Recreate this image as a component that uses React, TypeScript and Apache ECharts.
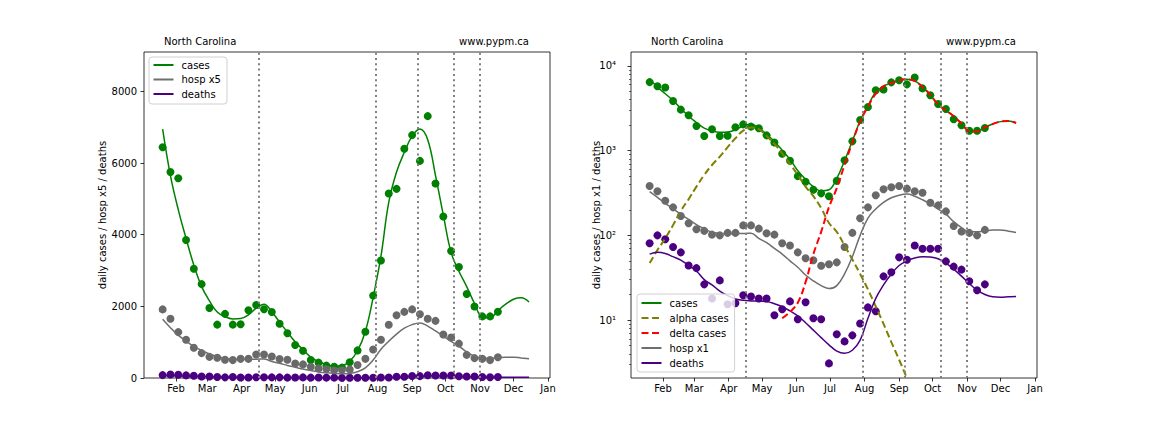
import React, { useEffect, useRef } from "react";
import * as echarts from "echarts";

// ---- data (weekly, first week = 2021-01-20) ----
const FIRST_WEEK = "2021-01-20";

const casesObs = [6440, 5750, 5575, 3850, 3050, 2620, 1955, 1490, 1790, 1490, 1500, 1890, 2040, 1920, 1840, 1515, 1250, 920, 760, 500, 430, 345, 313, 290, 440, 770, 1290, 2300, 3280, 5150, 5280, 6400, 6780, 6060, 7310, 5430, 4510, 3545, 3100, 2345, 1995, 1720, 1720, 1850];
const hospObs = [383, 331, 256, 214, 169, 139, 118, 113, 102, 100, 107, 107, 131, 131, 120, 106, 102, 80.5, 76, 63, 53.6, 50.7, 43.8, 45.5, 48, 72.8, 107, 159, 214, 297, 350, 369, 383, 356, 331, 319, 243, 226, 192, 129, 111, 107, 100, 116];
const deathsObs = [80.5, 100, 90, 73, 63, 44, 41, 26.4, 18, 29.4, 15.4, 15.8, 19.6, 19, 18, 18, 11.4, 13.4, 16.6, 10.2, 16.2, 10.5, 10.2, 3.08, 6.8, 5.6, 6.6, 9.1, 14.1, 12.7, 32.8, 36.6, 55, 51.5, 76, 69.5, 69.5, 69.5, 49.3, 42.7, 39.4, 28.7, 22.5, 26.4];

const casesFit = [6950, 5650, 4700, 3900, 3150, 2550, 2150, 1840, 1710, 1650, 1660, 1760, 1950, 2060, 1850, 1560, 1280, 1010, 790, 580, 460, 375, 335, 345, 470, 760, 1300, 2250, 3400, 4900, 5750, 6300, 6750, 6950, 6650, 5650, 4550, 3500, 2980, 2550, 2080, 1700, 1680, 1880, 2060, 2200, 2240, 2120];
const hospFit = [328, 281, 239, 206, 177, 154, 134, 120, 109, 106, 104, 105, 105, 106, 92, 82, 70, 60, 50, 42, 34, 29, 25.5, 23.5, 25.5, 35, 56, 100, 160, 205, 245, 278, 298, 307, 290, 263, 234, 204, 178, 145, 123, 110, 110, 113, 116, 116, 112, 108];
const deathsFit = [60, 63, 61, 56, 51, 44, 38, 30, 26, 22, 19.5, 17.7, 17.1, 16.8, 16.7, 16.5, 15.6, 14.4, 12.8, 11.2, 9.3, 7.6, 6.2, 5.1, 4.3, 4.05, 4.4, 5.8, 10.5, 18, 26, 35, 44, 50, 54, 56, 55.5, 53, 47, 40, 33, 27, 22.5, 20, 18.8, 18.6, 18.8, 19];
const alphaFit = [47, 67, 92, 132, 195, 267, 376, 517, 677, 850, 1097, 1400, 1722, 1880, 1790, 1490, 1200, 931, 697, 517, 376, 290, 210, 140, 110, 76, 52, 35, 23, 14.5, 9, 5.5, 3.4, 2.05, 1.2];
const DELTA_FIRST_WEEK = 17;
const deltaFit = [10.5, 12.5, 16, 28, 60, 110, 215, 360, 680, 1250, 2200, 3300, 4700, 5740, 6290, 6745, 6948, 6650, 5650, 4550, 3500, 2980, 2550, 2080, 1700, 1680, 1880, 2060, 2200, 2240, 2120];

const changeDates = ["2021-04-16", "2021-07-30", "2021-09-06", "2021-10-08", "2021-11-01"];
const monthTickDates = ["2021-02-01", "2021-03-01", "2021-04-01", "2021-05-01", "2021-06-01", "2021-07-01", "2021-08-01", "2021-09-01", "2021-10-01", "2021-11-01", "2021-12-01", "2022-01-01"];
const monthTickLabels = ["Feb", "Mar", "Apr", "May", "Jun", "Jul", "Aug", "Sep", "Oct", "Nov", "Dec", "Jan"];
const linearTicks = [0, 2000, 4000, 6000, 8000];
const logTicks = [10, 100, 1000, 10000];
const logTickLabels = ["10\u00b9", "10\u00b2", "10\u00b3", "10\u2074"];
const logMinorTicks = [3, 4, 5, 6, 7, 8, 9, 20, 30, 40, 50, 60, 70, 80, 90, 200, 300, 400, 500, 600, 700, 800, 900, 2000, 3000, 4000, 5000, 6000, 7000, 8000, 9000];

// ---- helpers ----
const DAY = 86400000;
const ts = (s: string) => {
  const [y, m, d] = s.split("-").map(Number);
  return Date.UTC(y, m - 1, d);
};
const T0 = ts(FIRST_WEEK);
const weekly = (vals: number[], offset = 0, scale = 1) =>
  vals.map((v, i) => [T0 + (i + offset) * 7 * DAY, v * scale]);

const X_MIN = Date.UTC(2021, 0, 3, 6);
const X_MAX = Date.UTC(2022, 0, 2, 19);
const monthTs = monthTickDates.map(ts);

const FONT = "DejaVu Sans";
const GREEN = "#008000";
const GREY_DOT = "#696969";
const GREY_LINE = "#6e6e6e";
const INDIGO = "#4b0082";
const OLIVE = "#808000";
const RED = "#ff0000";

function xAxis(gridIndex: number) {
  return {
    type: "value",
    gridIndex,
    min: X_MIN,
    max: X_MAX,
    axisLine: { show: false },
    splitLine: { show: false },
    axisTick: { show: true, length: 3.5, customValues: monthTs, lineStyle: { color: "#000", width: 0.8 } },
    axisLabel: {
      customValues: monthTs,
      formatter: (v: number) => {
        const i = monthTs.findIndex((t) => Math.abs(t - v) < 1000);
        return i >= 0 ? monthTickLabels[i] : "";
      },
      margin: 5,
      color: "#000",
      fontSize: 10,
      fontFamily: FONT,
    },
  };
}

function markLines() {
  return {
    silent: true,
    symbol: ["none", "none"],
    label: { show: false },
    lineStyle: { color: "#808080", width: 2, type: [2, 3.3] },
    data: changeDates.map((d) => ({ xAxis: ts(d) })),
  };
}

function scatter(name: string, data: number[][], color: string, xi: number, yi: number) {
  return {
    type: "scatter",
    name,
    xAxisIndex: xi,
    yAxisIndex: yi,
    data,
    symbol: "circle",
    symbolSize: 8,
    itemStyle: { color, opacity: 1 },
    z: 2,
  };
}

function line(name: string, data: number[][], color: string, xi: number, yi: number, dashed = false, extra: any = {}) {
  return {
    type: "line",
    name,
    xAxisIndex: xi,
    yAxisIndex: yi,
    data,
    symbol: "none",
    smooth: 0.4,
    clip: true,
    lineStyle: dashed ? { color, width: 2, type: [7, 3.5] } : { color, width: 1.5 },
    itemStyle: { color },
    z: 3,
    ...extra,
  };
}

const legendBase = {
  orient: "vertical",
  selectedMode: false,
  itemWidth: 20,
  itemHeight: 12,
  itemGap: 2.5,
  borderColor: "#d0d0d0",
  borderWidth: 1,
  borderRadius: 3,
  backgroundColor: "rgba(255,255,255,0.8)",
  itemStyle: { color: "rgba(0,0,0,0)", borderColor: "rgba(0,0,0,0)", borderWidth: 0 },
  textStyle: { fontSize: 10, fontFamily: FONT, color: "#000", lineHeight: 12, padding: [0, 0, 0, 3] },
  z: 10,
};

function titleTexts(left: number, right: number) {
  return [
    { type: "text", left, top: 36, style: { text: "North Carolina", font: `10px ${FONT}`, fill: "#000" } },
    { type: "text", right, top: 36, style: { text: "www.pypm.ca", font: `10px ${FONT}`, fill: "#000" } },
  ];
}

export default function App() {
  const ref = useRef<HTMLDivElement>(null);
  useEffect(() => {
    if (!ref.current) return;
    const chart = echarts.init(ref.current, undefined, { renderer: "svg" });
    const option: any = {
      animation: false,
      backgroundColor: "#ffffff",
      textStyle: { fontFamily: FONT },
      grid: [
        { left: 144, top: 52, width: 406, height: 326, show: true, borderColor: "#000", borderWidth: 0.8, backgroundColor: "transparent" },
        { left: 631, top: 52, width: 406, height: 326, show: true, borderColor: "#000", borderWidth: 0.8, backgroundColor: "transparent" },
      ],
      xAxis: [xAxis(0), xAxis(1)],
      yAxis: [
        {
          type: "value",
          gridIndex: 0,
          min: 0,
          max: 9100,
          axisLine: { show: false },
          splitLine: { show: false },
          axisTick: { show: true, length: 3.5, customValues: linearTicks, lineStyle: { color: "#000", width: 0.8 } },
          axisLabel: {
            customValues: linearTicks,
            formatter: (v: number) => String(Math.round(v)),
            margin: 7,
            color: "#000",
            fontSize: 10,
            fontFamily: FONT,
          },
        },
        {
          type: "log",
          logBase: 10,
          gridIndex: 1,
          min: 2.07,
          max: 14600,
          axisLine: { show: false },
          splitLine: { show: false },
          axisTick: { show: true, length: 3.5, customValues: logTicks, lineStyle: { color: "#000", width: 0.8 } },
          axisLabel: {
            customValues: logTicks,
            formatter: (v: number) => {
              const i = logTicks.findIndex((t) => Math.abs(t - v) / t < 1e-6);
              return i >= 0 ? logTickLabels[i] : "";
            },
            margin: 15,
            color: "#000",
            fontSize: 10,
            fontFamily: FONT,
          },
        },
        {
          type: "log",
          logBase: 10,
          gridIndex: 1,
          position: "left",
          min: 2.07,
          max: 14600,
          axisLine: { show: false },
          splitLine: { show: false },
          axisLabel: { show: false },
          axisTick: { show: true, length: 2, customValues: logMinorTicks, lineStyle: { color: "#000", width: 0.6 } },
        },
      ],
      legend: [
        {
          ...legendBase,
          left: 149,
          top: 57,
          padding: [2, 6, 4, 3.5],
          data: ["cases", "hosp x5", "deaths"],
        },
        {
          ...legendBase,
          left: 637,
          top: 294,
          itemGap: 3,
          padding: [3, 6, 3, 3.5],
          data: ["cases", "alpha cases", "delta cases", "hosp x1", "deaths"],
        },
      ],
      graphic: [
        ...titleTexts(164, 1152 - 529),
        ...titleTexts(651, 1152 - 1016),
        {
          type: "text",
          x: 102,
          y: 215,
          rotation: Math.PI / 2,
          style: { text: "daily cases / hosp x5 / deaths", font: `10px ${FONT}`, fill: "#000", align: "center", verticalAlign: "middle" },
        },
        {
          type: "text",
          x: 596,
          y: 215,
          rotation: Math.PI / 2,
          style: { text: "daily cases / hosp x1 / deaths", font: `10px ${FONT}`, fill: "#000", align: "center", verticalAlign: "middle" },
        },
      ],
      series: [
        // left panel
        scatter("cases data", weekly(casesObs), GREEN, 0, 0),
        scatter("hosp data x5", weekly(hospObs, 0, 5), GREY_DOT, 0, 0),
        scatter("deaths data", weekly(deathsObs), INDIGO, 0, 0),
        line("cases", weekly(casesFit), GREEN, 0, 0, false, { markLine: markLines() }),
        line("hosp x5", weekly(hospFit, 0, 5), GREY_LINE, 0, 0),
        line("deaths", weekly(deathsFit), INDIGO, 0, 0),
        // right panel
        scatter("cases data r", weekly(casesObs), GREEN, 1, 1),
        scatter("hosp data r", weekly(hospObs), GREY_DOT, 1, 1),
        scatter("deaths data r", weekly(deathsObs), INDIGO, 1, 1),
        line("cases", weekly(casesFit), GREEN, 1, 1, false, { markLine: markLines() }),
        line("alpha cases", weekly(alphaFit), OLIVE, 1, 1, true),
        line("delta cases", weekly(deltaFit, DELTA_FIRST_WEEK), RED, 1, 1, true, { z: 4 }),
        line("hosp x1", weekly(hospFit), GREY_LINE, 1, 1),
        line("deaths", weekly(deathsFit), INDIGO, 1, 1),
      ],
    };
    chart.setOption(option);
    return () => chart.dispose();
  }, []);
  return (
    <div
      ref={ref}
      style={{ position: "absolute", left: 0, top: 0, width: 1152, height: 432, background: "#fff" }}
    />
  );
}
